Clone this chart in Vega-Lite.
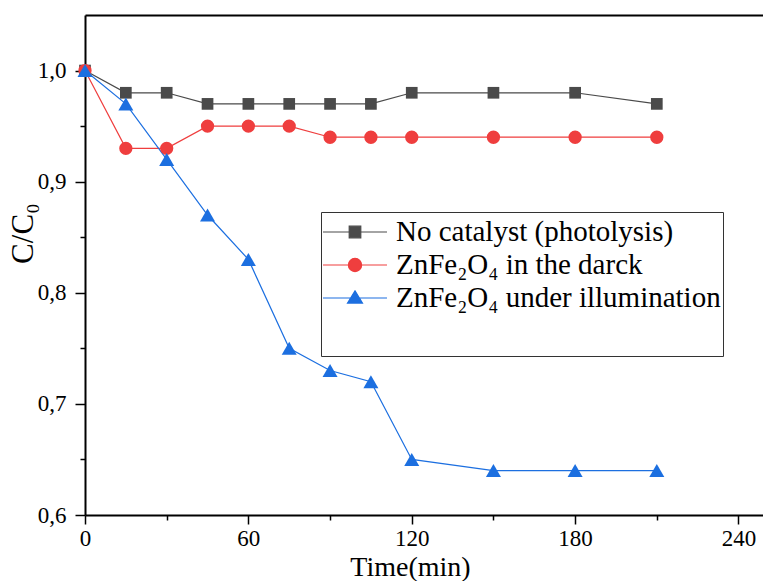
{
  "$schema": "https://vega.github.io/schema/vega-lite/v6.json",
  "width": 678,
  "height": 500,
  "autosize": {"type": "none"},
  "padding": {"left": 85, "top": 15, "right": 0, "bottom": 66},
  "background": "white",
  "config": {
    "view": {"stroke": null},
    "font": "Liberation Serif, Times New Roman, DejaVu Serif, serif",
    "axis": {
      "grid": false,
      "domainColor": "black",
      "domainWidth": 2,
      "tickColor": "black",
      "tickWidth": 1.5,
      "labelFont": "Liberation Serif, Times New Roman, DejaVu Serif, serif",
      "labelFontSize": 23,
      "labelColor": "black",
      "labelFlush": false,
      "titleFont": "Liberation Serif, Times New Roman, DejaVu Serif, serif",
      "titleColor": "black",
      "titleFontWeight": "normal"
    }
  },
  "data": {
    "values": [
      {"t": 0, "c": 1.0, "s": "No catalyst (photolysis)"},
      {"t": 15, "c": 0.98, "s": "No catalyst (photolysis)"},
      {"t": 30, "c": 0.98, "s": "No catalyst (photolysis)"},
      {"t": 45, "c": 0.97, "s": "No catalyst (photolysis)"},
      {"t": 60, "c": 0.97, "s": "No catalyst (photolysis)"},
      {"t": 75, "c": 0.97, "s": "No catalyst (photolysis)"},
      {"t": 90, "c": 0.97, "s": "No catalyst (photolysis)"},
      {"t": 105, "c": 0.97, "s": "No catalyst (photolysis)"},
      {"t": 120, "c": 0.98, "s": "No catalyst (photolysis)"},
      {"t": 150, "c": 0.98, "s": "No catalyst (photolysis)"},
      {"t": 180, "c": 0.98, "s": "No catalyst (photolysis)"},
      {"t": 210, "c": 0.97, "s": "No catalyst (photolysis)"},
      {"t": 0, "c": 1.0, "s": "ZnFe₂O₄ in the darck"},
      {"t": 15, "c": 0.93, "s": "ZnFe₂O₄ in the darck"},
      {"t": 30, "c": 0.93, "s": "ZnFe₂O₄ in the darck"},
      {"t": 45, "c": 0.95, "s": "ZnFe₂O₄ in the darck"},
      {"t": 60, "c": 0.95, "s": "ZnFe₂O₄ in the darck"},
      {"t": 75, "c": 0.95, "s": "ZnFe₂O₄ in the darck"},
      {"t": 90, "c": 0.94, "s": "ZnFe₂O₄ in the darck"},
      {"t": 105, "c": 0.94, "s": "ZnFe₂O₄ in the darck"},
      {"t": 120, "c": 0.94, "s": "ZnFe₂O₄ in the darck"},
      {"t": 150, "c": 0.94, "s": "ZnFe₂O₄ in the darck"},
      {"t": 180, "c": 0.94, "s": "ZnFe₂O₄ in the darck"},
      {"t": 210, "c": 0.94, "s": "ZnFe₂O₄ in the darck"},
      {"t": 0, "c": 1.0, "s": "ZnFe₂O₄ under illumination"},
      {"t": 15, "c": 0.97, "s": "ZnFe₂O₄ under illumination"},
      {"t": 30, "c": 0.92, "s": "ZnFe₂O₄ under illumination"},
      {"t": 45, "c": 0.87, "s": "ZnFe₂O₄ under illumination"},
      {"t": 60, "c": 0.83, "s": "ZnFe₂O₄ under illumination"},
      {"t": 75, "c": 0.75, "s": "ZnFe₂O₄ under illumination"},
      {"t": 90, "c": 0.73, "s": "ZnFe₂O₄ under illumination"},
      {"t": 105, "c": 0.72, "s": "ZnFe₂O₄ under illumination"},
      {"t": 120, "c": 0.65, "s": "ZnFe₂O₄ under illumination"},
      {"t": 150, "c": 0.64, "s": "ZnFe₂O₄ under illumination"},
      {"t": 180, "c": 0.64, "s": "ZnFe₂O₄ under illumination"},
      {"t": 210, "c": 0.64, "s": "ZnFe₂O₄ under illumination"}
    ]
  },
  "layer": [
    {
      "mark": {"type": "line", "strokeWidth": 1.2},
      "encoding": {
        "x": {
          "field": "t", "type": "quantitative",
          "scale": {"domain": [0, 249], "nice": false, "zero": false},
          "axis": {
            "orient": "bottom", "values": [0, 60, 120, 180, 240],
            "tickSize": 9, "labelPadding": 3,
            "title": "Time(min)", "titleFontSize": 28,
            "titleX": 325, "titleY": 60, "titleBaseline": "alphabetic"
          }
        },
        "y": {
          "field": "c", "type": "quantitative",
          "scale": {"domain": [0.6, 1.05], "nice": false, "zero": false},
          "axis": {
            "orient": "left", "values": [0.6, 0.7, 0.8, 0.9, 1.0],
            "tickSize": 10, "labelPadding": 9,
            "labelExpr": "replace(format(datum.value, '.1f'), '.', ',')",
            "title": "C/C₀", "titleFontSize": 31,
            "titleX": -53, "titleY": 218, "titleBaseline": "alphabetic"
          }
        },
        "color": {
          "field": "s", "type": "nominal",
          "scale": {
            "domain": ["No catalyst (photolysis)", "ZnFe₂O₄ in the darck", "ZnFe₂O₄ under illumination"],
            "range": ["#4a4a4a", "#ef3e3e", "#1c6fe0"]
          },
          "legend": {
            "orient": "none", "legendX": 236, "legendY": 197,
            "title": " ", "titleOrient": "bottom", "titleFontSize": 28, "titlePadding": 13,
            "padding": 2, "strokeColor": "#333333", "fillColor": "white",
            "symbolSize": 1156, "symbolOffset": 14, "labelOffset": 23,
            "labelFont": "Liberation Serif, Times New Roman, DejaVu Serif, serif", "labelFontSize": 29, "labelColor": "black",
            "labelLimit": 500, "rowPadding": 0,
            "encode": {
              "symbols": {
                "update": {
                  "shape": {"signal": "datum.index === 0 ? 'M-1.882,0H1.882M-0.34,-0.34H0.34V0.34H-0.34Z' : datum.index === 1 ? 'M-1.882,0H1.882M-0.39,0A0.39,0.39,0,1,0,0.39,0A0.39,0.39,0,1,0,-0.39,0Z' : 'M-1.882,0H1.882M0,-0.42L0.44,0.3H-0.44Z'"},
                  "fill": {"signal": "scale('color', datum.value)"},
                  "stroke": {"signal": "scale('color', datum.value)"},
                  "strokeWidth": {"value": 1.2},
                  "opacity": {"value": 1},
                  "size": {"value": 1156}
                }
              }
            }
          }
        }
      }
    },
    {
      "transform": [{"filter": "datum.s === 'No catalyst (photolysis)'"}],
      "mark": {"type": "point", "filled": true, "opacity": 1, "shape": "square", "size": 137},
      "encoding": {
        "x": {
          "field": "t", "type": "quantitative",
          "axis": {"orient": "bottom", "values": [30, 90, 150, 210], "tickSize": 5, "labels": false, "domain": false, "title": null}
        },
        "y": {
          "field": "c", "type": "quantitative",
          "axis": {"orient": "left", "values": [0.65, 0.75, 0.85, 0.95], "tickSize": 5, "labels": false, "domain": false, "title": null}
        },
        "color": {"field": "s", "type": "nominal"}
      }
    },
    {
      "transform": [{"filter": "datum.s === 'ZnFe₂O₄ in the darck'"}],
      "mark": {"type": "point", "filled": true, "opacity": 1, "shape": "circle", "size": 177},
      "encoding": {
        "x": {
          "field": "t", "type": "quantitative",
          "axis": {"orient": "top", "labels": false, "ticks": false, "domain": true, "title": null}
        },
        "y": {"field": "c", "type": "quantitative", "axis": null},
        "color": {"field": "s", "type": "nominal"}
      }
    },
    {
      "transform": [{"filter": "datum.s === 'ZnFe₂O₄ under illumination'"}],
      "mark": {"type": "point", "filled": true, "opacity": 1, "shape": "triangle-up", "size": 225},
      "encoding": {
        "x": {"field": "t", "type": "quantitative", "axis": null},
        "y": {"field": "c", "type": "quantitative", "axis": null},
        "color": {"field": "s", "type": "nominal"}
      }
    }
  ],
  "resolve": {"axis": {"x": "independent", "y": "independent"}}
}
